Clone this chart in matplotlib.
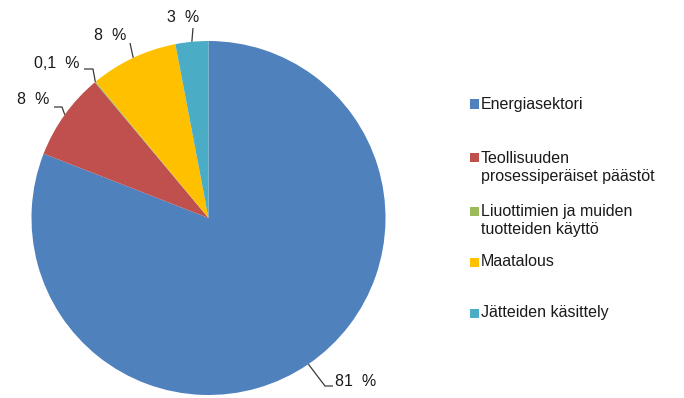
import numpy as np
import matplotlib
matplotlib.use("Agg")
import matplotlib.pyplot as plt
from matplotlib.patches import Rectangle

categories = ["Energiasektori",
              "Teollisuuden\nprosessiperäiset päästöt",
              "Liuottimien ja muiden\ntuotteiden käyttö",
              "Maatalous",
              "Jätteiden käsittely"]
values = [81, 8, 0.1, 8, 3]
value_labels = ["81 %", "8 %", "0,1 %", "8 %", "3 %"]
colors = ["#4F81BD", "#C0504D", "#9BBB59", "#FFC000", "#4BACC6"]

plt.rcParams['font.family'] = ['Liberation Sans', 'DejaVu Sans']

W, H = 684, 398
fig = plt.figure(figsize=(W / 100, H / 100), dpi=100)
cx, cy, R = 208.5, 218, 177  # pixel layout of the pie
ax = fig.add_axes([(cx - R) / W, (H - cy - R) / H, 2 * R / W, 2 * R / H])
wedges, _ = ax.pie(values, colors=colors, startangle=90, counterclock=False,
                   radius=1, wedgeprops=dict(linewidth=0))
ax.set_xlim(-1, 1)
ax.set_ylim(-1, 1)
ax.set_aspect("equal")
ax.axis("off")


def d(px, py):
    return ((px - cx) / R, (cy - py) / R)


# label layout in pixels: (elbow, end-of-line, text pos, ha)
layout = [
    ((325, 386), (333, 386), (335, 381), "left"),
    ((62, 107), (54, 107), (49, 100), "right"),
    ((93, 69), (84, 69), (79, 63), "right"),
    ((130, 43), (130, 43), (126, 36), "right"),
    ((193, 28), (193, 28), (183, 18), "center"),
]
for w, lab, (el, en, tp, ha) in zip(wedges, value_labels, layout):
    mid = np.deg2rad((w.theta1 + w.theta2) / 2)
    x0, y0 = np.cos(mid), np.sin(mid)
    ex, ey = d(*el)
    nx, ny = d(*en)
    ax.plot([x0, ex, nx], [y0, ey, ny], color="#3a3a3a", lw=0.9,
            clip_on=False, solid_capstyle="butt")
    tx, ty = d(*tp)
    ax.text(tx, ty, lab.replace(" %", "  %"), ha=ha, va="center", fontsize=11.5,
            color="#1a1a1a", clip_on=False)

# legend
leg_y = [104, 158, 211, 262, 313]
for lab, col, y in zip(categories, colors, leg_y):
    fig.patches.append(Rectangle((470 / W, (H - y - 4.5) / H), 9 / W, 9 / H,
                                 transform=fig.transFigure, facecolor=col,
                                 edgecolor="none"))
    fig.text(481 / W, (H - y) / H + (7 / H if "\n" in lab else 0), lab,
             ha="left", va="top" if "\n" in lab else "center",
             fontsize=11.5, color="#1a1a1a", linespacing=1.25,
             transform=fig.transFigure)

fig.savefig("out.png", dpi=100)
